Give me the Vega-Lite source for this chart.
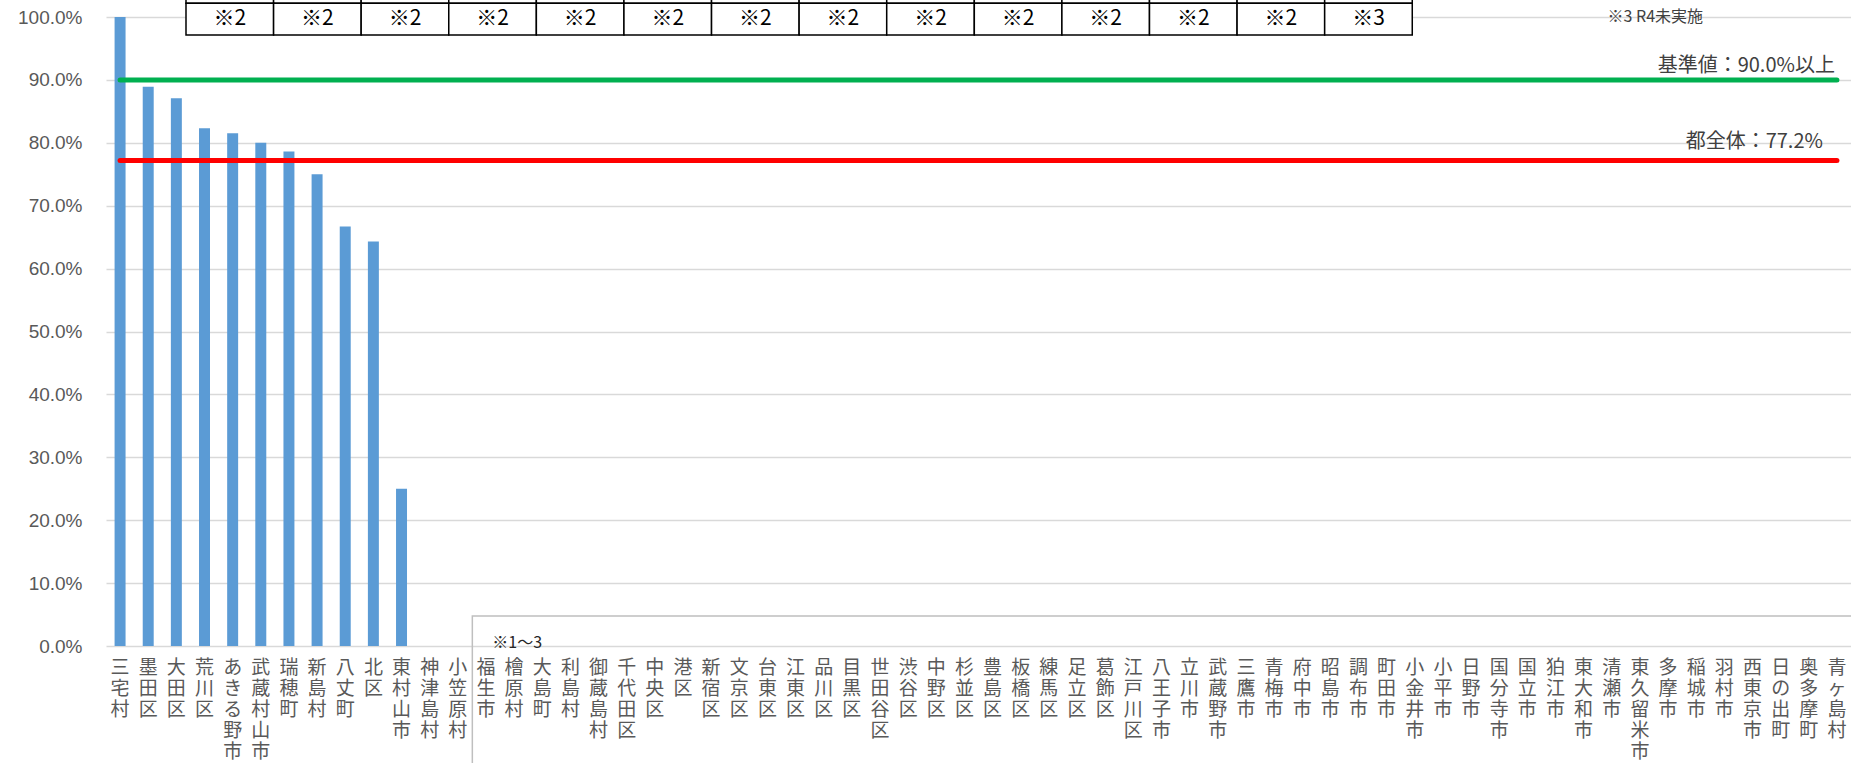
{
  "$schema": "https://vega.github.io/schema/vega-lite/v6.json",
  "width": 1745,
  "height": 629,
  "autosize": {"type": "none"},
  "padding": {"left": 106, "top": 17, "right": 0, "bottom": 117},
  "background": "white",
  "config": {"view": {"stroke": null}, "font": "Liberation Sans"},
  "datasets": {
    "rates": [
      {"name": "三宅村", "rate": 1.0},
      {"name": "墨田区", "rate": 0.889},
      {"name": "大田区", "rate": 0.871},
      {"name": "荒川区", "rate": 0.823},
      {"name": "あきる野市", "rate": 0.815},
      {"name": "武蔵村山市", "rate": 0.8},
      {"name": "瑞穂町", "rate": 0.786},
      {"name": "新島村", "rate": 0.75},
      {"name": "八丈町", "rate": 0.667},
      {"name": "北区", "rate": 0.643},
      {"name": "東村山市", "rate": 0.25},
      {"name": "神津島村", "rate": 0},
      {"name": "小笠原村", "rate": 0},
      {"name": "福生市", "rate": 0},
      {"name": "檜原村", "rate": 0},
      {"name": "大島町", "rate": 0},
      {"name": "利島村", "rate": 0},
      {"name": "御蔵島村", "rate": 0},
      {"name": "千代田区", "rate": 0},
      {"name": "中央区", "rate": 0},
      {"name": "港区", "rate": 0},
      {"name": "新宿区", "rate": 0},
      {"name": "文京区", "rate": 0},
      {"name": "台東区", "rate": 0},
      {"name": "江東区", "rate": 0},
      {"name": "品川区", "rate": 0},
      {"name": "目黒区", "rate": 0},
      {"name": "世田谷区", "rate": 0},
      {"name": "渋谷区", "rate": 0},
      {"name": "中野区", "rate": 0},
      {"name": "杉並区", "rate": 0},
      {"name": "豊島区", "rate": 0},
      {"name": "板橋区", "rate": 0},
      {"name": "練馬区", "rate": 0},
      {"name": "足立区", "rate": 0},
      {"name": "葛飾区", "rate": 0},
      {"name": "江戸川区", "rate": 0},
      {"name": "八王子市", "rate": 0},
      {"name": "立川市", "rate": 0},
      {"name": "武蔵野市", "rate": 0},
      {"name": "三鷹市", "rate": 0},
      {"name": "青梅市", "rate": 0},
      {"name": "府中市", "rate": 0},
      {"name": "昭島市", "rate": 0},
      {"name": "調布市", "rate": 0},
      {"name": "町田市", "rate": 0},
      {"name": "小金井市", "rate": 0},
      {"name": "小平市", "rate": 0},
      {"name": "日野市", "rate": 0},
      {"name": "国分寺市", "rate": 0},
      {"name": "国立市", "rate": 0},
      {"name": "狛江市", "rate": 0},
      {"name": "東大和市", "rate": 0},
      {"name": "清瀬市", "rate": 0},
      {"name": "東久留米市", "rate": 0},
      {"name": "多摩市", "rate": 0},
      {"name": "稲城市", "rate": 0},
      {"name": "羽村市", "rate": 0},
      {"name": "西東京市", "rate": 0},
      {"name": "日の出町", "rate": 0},
      {"name": "奥多摩町", "rate": 0},
      {"name": "青ヶ島村", "rate": 0}
    ],
    "refs": [
      {"name": "青ヶ島村", "level": 0.9, "label": "基準値：90.0%以上", "kind": "kijun"},
      {"name": "青ヶ島村", "level": 0.772, "label": "都全体：77.2%", "kind": "zentai"}
    ],
    "table": [
      {"c0": 0, "c1": 1, "note": "※2"},
      {"c0": 1, "c1": 2, "note": "※2"},
      {"c0": 2, "c1": 3, "note": "※2"},
      {"c0": 3, "c1": 4, "note": "※2"},
      {"c0": 4, "c1": 5, "note": "※2"},
      {"c0": 5, "c1": 6, "note": "※2"},
      {"c0": 6, "c1": 7, "note": "※2"},
      {"c0": 7, "c1": 8, "note": "※2"},
      {"c0": 8, "c1": 9, "note": "※2"},
      {"c0": 9, "c1": 10, "note": "※2"},
      {"c0": 10, "c1": 11, "note": "※2"},
      {"c0": 11, "c1": 12, "note": "※2"},
      {"c0": 12, "c1": 13, "note": "※2"},
      {"c0": 13, "c1": 14, "note": "※3"}
    ]
  },
  "layer": [
    {
      "data": {"name": "rates"},
      "layer": [
        {
          "mark": {"type": "bar", "color": "#5B9BD5", "width": {"band": 0.39}},
          "encoding": {
            "x": {
              "field": "name", "type": "nominal", "sort": null, "title": null,
              "scale": {"paddingInner": 0, "paddingOuter": 0},
              "axis": {
                "title": null, "labelAngle": 0, "domain": false, "ticks": false,
                "labelExpr": "split(datum.label, '')",
                "labelFont": "Noto Sans CJK JP", "labelFontSize": 19, "labelLineHeight": 21,
                "labelBaseline": "top", "labelPadding": 12, "labelColor": "#595959",
                "labelOverlap": false, "labelLimit": 0
              }
            },
            "y": {
              "field": "rate", "type": "quantitative", "title": null,
              "scale": {"domain": [0, 1], "nice": false, "zero": true},
              "axis": {
                "title": null, "values": [0, 0.1, 0.2, 0.3, 0.4, 0.5, 0.6, 0.7, 0.8, 0.9, 1.0],
                "format": ".1%", "grid": true, "gridColor": "#D9D9D9", "gridWidth": 1.3,
                "domain": false, "ticks": false, "labelPadding": 24,
                "labelFontSize": 19, "labelColor": "#595959", "labelFont": "Liberation Sans"
              }
            }
          }
        },
        {
          "mark": {"type": "line", "color": "#00B050", "strokeWidth": 5, "strokeCap": "round"},
          "encoding": {
            "x": {"field": "name", "type": "nominal", "sort": null, "title": null},
            "y": {"datum": 0.9, "type": "quantitative", "title": null}
          }
        },
        {
          "mark": {"type": "line", "color": "#FF0000", "strokeWidth": 5, "strokeCap": "round"},
          "encoding": {
            "x": {"field": "name", "type": "nominal", "sort": null, "title": null},
            "y": {"datum": 0.772, "type": "quantitative", "title": null}
          }
        },
        {
          "data": {"name": "refs"},
          "transform": [{"filter": "datum.kind === 'kijun'"}],
          "mark": {"type": "text", "align": "right", "baseline": "alphabetic", "dx": -2, "dy": -8,
                   "font": "Noto Sans CJK JP", "fontSize": 20, "color": "#404040"},
          "encoding": {
            "x": {"field": "name", "type": "nominal", "sort": null, "title": null},
            "y": {"field": "level", "type": "quantitative", "title": null},
            "text": {"field": "label"}
          }
        },
        {
          "data": {"name": "refs"},
          "transform": [{"filter": "datum.kind === 'zentai'"}],
          "mark": {"type": "text", "align": "right", "baseline": "alphabetic", "dx": -14, "dy": -12,
                   "font": "Noto Sans CJK JP", "fontSize": 20, "color": "#404040"},
          "encoding": {
            "x": {"field": "name", "type": "nominal", "sort": null, "title": null},
            "y": {"field": "level", "type": "quantitative", "title": null},
            "text": {"field": "label"}
          }
        }
      ]
    },
    {
      "data": {"name": "table"},
      "layer": [
        {
          "mark": {"type": "rect", "fill": "white", "stroke": "black", "strokeWidth": 1.5},
          "encoding": {
            "x": {"field": "c0", "type": "quantitative", "scale": {"domain": [-0.9133, 19.009], "nice": false, "zero": false}, "axis": null},
            "x2": {"field": "c1"},
            "y": {"datum": 1.0218, "type": "quantitative", "scale": {"domain": [0, 1], "nice": false}, "axis": null},
            "y2": {"datum": 1.08}
          }
        },
        {
          "mark": {"type": "rect", "fill": "white", "stroke": "black", "strokeWidth": 1.5},
          "encoding": {
            "x": {"field": "c0", "type": "quantitative", "scale": {"domain": [-0.9133, 19.009], "nice": false, "zero": false}, "axis": null},
            "x2": {"field": "c1"},
            "y": {"datum": 0.9714, "type": "quantitative", "scale": {"domain": [0, 1], "nice": false}, "axis": null},
            "y2": {"datum": 1.0218}
          }
        },
        {
          "mark": {"type": "text", "align": "center", "baseline": "middle", "dx": 43.8,
                   "font": "Noto Sans CJK JP", "fontSize": 21, "color": "black"},
          "encoding": {
            "x": {"field": "c0", "type": "quantitative", "scale": {"domain": [-0.9133, 19.009], "nice": false, "zero": false}, "axis": null},
            "y": {"datum": 0.9968, "type": "quantitative", "scale": {"domain": [0, 1], "nice": false}, "axis": null},
            "text": {"field": "note"}
          }
        },
        {
          "data": {"values": [{"note": "※3 R4未実施"}]},
          "mark": {"type": "text", "align": "left", "baseline": "middle",
                   "font": "Noto Sans CJK JP", "fontSize": 16, "color": "#404040"},
          "encoding": {
            "x": {"datum": 16.23, "type": "quantitative", "scale": {"domain": [-0.9133, 19.009], "nice": false, "zero": false}, "axis": null},
            "y": {"datum": 1.0005, "type": "quantitative", "scale": {"domain": [0, 1], "nice": false}, "axis": null},
            "text": {"field": "note"}
          }
        },
        {
          "data": {"values": [{"note": "※1～3"}]},
          "mark": {"type": "rect", "fill": null, "fillOpacity": 0, "stroke": "#BFBFBF", "strokeWidth": 1.5},
          "encoding": {
            "x": {"datum": 3.269, "type": "quantitative", "scale": {"domain": [-0.9133, 19.009], "nice": false, "zero": false}, "axis": null},
            "x2": {"datum": 25},
            "y": {"datum": 0.0477, "type": "quantitative", "scale": {"domain": [0, 1], "nice": false}, "axis": null},
            "y2": {"datum": -0.3}
          }
        },
        {
          "data": {"values": [{"note": "※1～3"}]},
          "mark": {"type": "text", "align": "left", "baseline": "middle",
                   "font": "Noto Sans CJK JP", "fontSize": 16, "color": "#262626"},
          "encoding": {
            "x": {"datum": 3.497, "type": "quantitative", "scale": {"domain": [-0.9133, 19.009], "nice": false, "zero": false}, "axis": null},
            "y": {"datum": 0.0052, "type": "quantitative", "scale": {"domain": [0, 1], "nice": false}, "axis": null},
            "text": {"field": "note"}
          }
        }
      ]
    }
  ],
  "resolve": {"scale": {"x": "independent", "y": "independent"}, "axis": {"x": "independent", "y": "independent"}}
}
